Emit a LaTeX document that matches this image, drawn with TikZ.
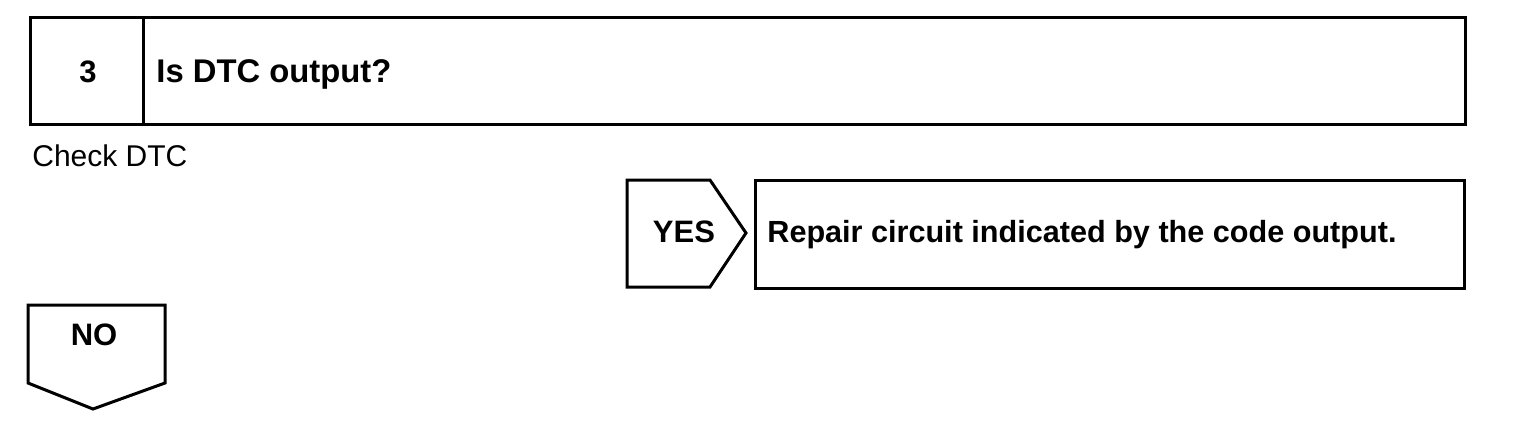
\documentclass[tikz,border=0pt]{standalone}
\usepackage{fontspec}
\setmainfont{Liberation Sans}
\begin{document}
\begin{tikzpicture}[x=0.5pt,y=-0.5pt,
  outline/.style={draw=black,line width=1.5pt,line join=miter},
  boldtxt/.style={inner sep=0pt,font=\fontsize{15.5pt}{18pt}\selectfont\bfseries},
  plaintxt/.style={inner sep=0pt,font=\fontsize{15pt}{18pt}\selectfont}]
\useasboundingbox (0,0) rectangle (1520,420);
% header box
\draw[outline] (30,17) rectangle (1465,124);
\draw[outline] (143,17) -- (143,124);
\node[boldtxt,anchor=base] (num) at (88,82) {3};
\node[boldtxt,anchor=base west,font=\fontsize{16.4pt}{18pt}\selectfont\bfseries] (title) at (156,82) {Is DTC output?};
\node[plaintxt,anchor=base west] (check) at (32,166) {Check DTC};
% YES branch
\draw[outline] (627,180) -- (710,180) -- (746,233) -- (710,287) -- (627,287) -- cycle;
\node[boldtxt,anchor=base] (yes) at (684,242) {YES};
\draw[outline] (755,180) rectangle (1464,288);
\node[boldtxt,anchor=base west,font=\fontsize{15.3pt}{18pt}\selectfont\bfseries] (repair) at (767,242) {Repair circuit indicated by the code output.};
% NO branch
\draw[outline] (28,305) -- (165,305) -- (165,383) -- (93,409) -- (28,383) -- cycle;
\node[boldtxt,anchor=base] (no) at (94,345) {NO};
\end{tikzpicture}
\end{document}
